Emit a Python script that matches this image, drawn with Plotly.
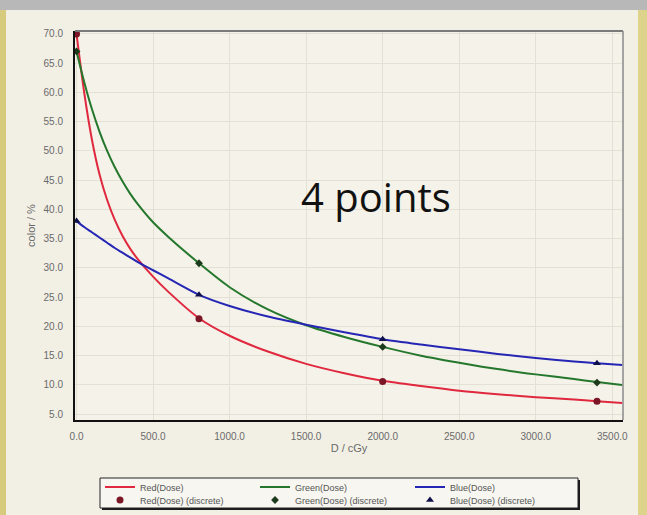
import plotly.graph_objects as go

dose = [0, 50, 100, 150, 200, 250, 300, 350, 400, 500, 600, 800, 1000, 1250, 1500,
        1750, 2000, 2250, 2500, 2750, 3000, 3250, 3400, 3565]
red_curve = [70.0, 60.0, 52.0, 46.0, 41.6, 38.2, 35.5, 33.3, 31.5, 28.5, 25.9, 21.4, 18.4,
             15.7, 13.6, 12.0, 10.7, 9.8, 9.0, 8.4, 7.9, 7.5, 7.2, 6.9]
green_curve = [67.0, 61.8, 57.2, 53.3, 50.0, 47.2, 44.8, 42.7, 40.9, 37.8, 35.3, 30.8, 26.7,
               22.9, 20.2, 18.2, 16.5, 15.0, 13.8, 12.7, 11.8, 11.0, 10.5, 10.0]
blue_curve = [38.0, 37.0, 36.1, 35.2, 34.3, 33.4, 32.6, 31.8, 31.0, 29.6, 28.2, 25.4, 23.5,
              21.7, 20.3, 19.0, 17.8, 16.9, 16.1, 15.3, 14.6, 14.0, 13.7, 13.4]

# The 4 measured points
dose_pts = [0, 800, 2000, 3400]
red_pts = [70.0, 21.3, 10.6, 7.2]
green_pts = [67.0, 30.8, 16.5, 10.4]
blue_pts = [38.0, 25.4, 17.8, 13.7]

# plot area in pixels (for decoration placement)
L, R, T, B = 75, 623, 31, 420
W, H = 647, 515


def px(x):
    return (x - L) / (R - L)


def py(y):
    return (B - y) / (B - T)


fig = go.Figure()

fig.add_trace(go.Scatter(x=dose, y=red_curve, mode='lines', name='Red(Dose)',
                         line=dict(color='#e0283e', width=2, shape='spline', smoothing=0.8)))
fig.add_trace(go.Scatter(x=dose, y=green_curve, mode='lines', name='Green(Dose)',
                         line=dict(color='#25772c', width=2, shape='spline', smoothing=0.8)))
fig.add_trace(go.Scatter(x=dose, y=blue_curve, mode='lines', name='Blue(Dose)',
                         line=dict(color='#2626b4', width=2, shape='spline', smoothing=0.8)))
fig.add_trace(go.Scatter(x=dose_pts, y=red_pts, mode='markers', name='Red(Dose) (discrete)',
                         legend='legend2',
                         marker=dict(symbol='circle', color='#7a1626', size=7)))
fig.add_trace(go.Scatter(x=dose_pts, y=green_pts, mode='markers', name='Green(Dose) (discrete)',
                         legend='legend2',
                         marker=dict(symbol='diamond', color='#1c3a1c', size=6)))
fig.add_trace(go.Scatter(x=dose_pts, y=blue_pts, mode='markers', name='Blue(Dose) (discrete)',
                         legend='legend2',
                         marker=dict(symbol='triangle-up', color='#10104a', size=7)))

tickfont = dict(family='Liberation Sans, Arial', size=10, color='#6a6a6a')
titlefont = dict(family='Liberation Sans, Arial', size=11, color='#6a6a6a')

fig.update_xaxes(range=[-10, 3570], dtick=500, tick0=0, tickformat='.1f',
                 tickfont=tickfont, showline=True, linecolor='#111', linewidth=2,
                 showgrid=True, gridcolor='#e3e0d4', gridwidth=1, zeroline=False,
                 ticks='', ticklabelstandoff=6, automargin=False,
                 title=dict(text='D / cGy', font=titlefont, standoff=2))
fig.update_yaxes(range=[4.0, 70.5], dtick=5, tick0=5, tickformat='.1f',
                 tickfont=tickfont, showline=True, linecolor='#111', linewidth=2,
                 showgrid=True, gridcolor='#e3e0d4', gridwidth=1, zeroline=False,
                 ticks='', ticklabelstandoff=8, automargin=False,
                 title=dict(text='color / %', font=titlefont, standoff=6))

shapes = [
    # top/right frame lines (gray)
    dict(type='line', xref='paper', yref='paper', x0=0, x1=1, y0=1, y1=1,
         line=dict(color='#7a7a7a', width=2)),
    dict(type='line', xref='paper', yref='paper', x0=1, x1=1, y0=0, y1=1,
         line=dict(color='#8a8a8a', width=1.5)),
    # slide decorations: gray band on top, yellow strips on the sides
    dict(type='rect', xref='paper', yref='paper', x0=px(0), x1=px(W), y0=py(10), y1=py(0),
         fillcolor='#b8b8b8', line=dict(width=0), layer='below'),
    dict(type='rect', xref='paper', yref='paper', x0=px(0), x1=px(6), y0=py(H), y1=py(10),
         fillcolor='#d6cb7c', line=dict(width=0), layer='below'),
    dict(type='rect', xref='paper', yref='paper', x0=px(638), x1=px(W), y0=py(H), y1=py(10),
         fillcolor='#ddd38a', line=dict(width=0), layer='below'),
    # legend frame with its dark drop shadow
    dict(type='rect', xref='paper', yref='paper', x0=px(102), x1=px(580), y0=py(510), y1=py(480),
         fillcolor='#1a1a1a', line=dict(width=0)),
    dict(type='rect', xref='paper', yref='paper', x0=px(100), x1=px(578), y0=py(508), y1=py(478),
         fillcolor='#f7f6f0', line=dict(color='#222', width=1)),
]

legend_font = dict(family='Liberation Sans, Arial', size=9, color='#555')
legend_common = dict(orientation='h', xanchor='left', yanchor='middle',
                     bgcolor='rgba(0,0,0,0)', borderwidth=0, font=legend_font,
                     entrywidth=110, entrywidthmode='pixels', itemwidth=30)

fig.update_layout(
    width=W, height=H,
    margin=dict(l=L, r=W - R, t=T, b=H - B, autoexpand=False),
    paper_bgcolor='#f2f0e5',
    plot_bgcolor='#f4f2e9',
    showlegend=True,
    legend=dict(x=px(100), y=py(487), **legend_common),
    legend2=dict(x=px(100), y=py(500), **legend_common),
    shapes=shapes,
    annotations=[dict(text='4 points', x=px(376), y=py(196), xref='paper', yref='paper',
                      showarrow=False, font=dict(family='Open Sans, Liberation Sans', size=40,
                                                 color='#111'))],
)

fig.write_html("out.html", config={'displayModeBar': False},
               post_script="document.body.style.margin='0';")
